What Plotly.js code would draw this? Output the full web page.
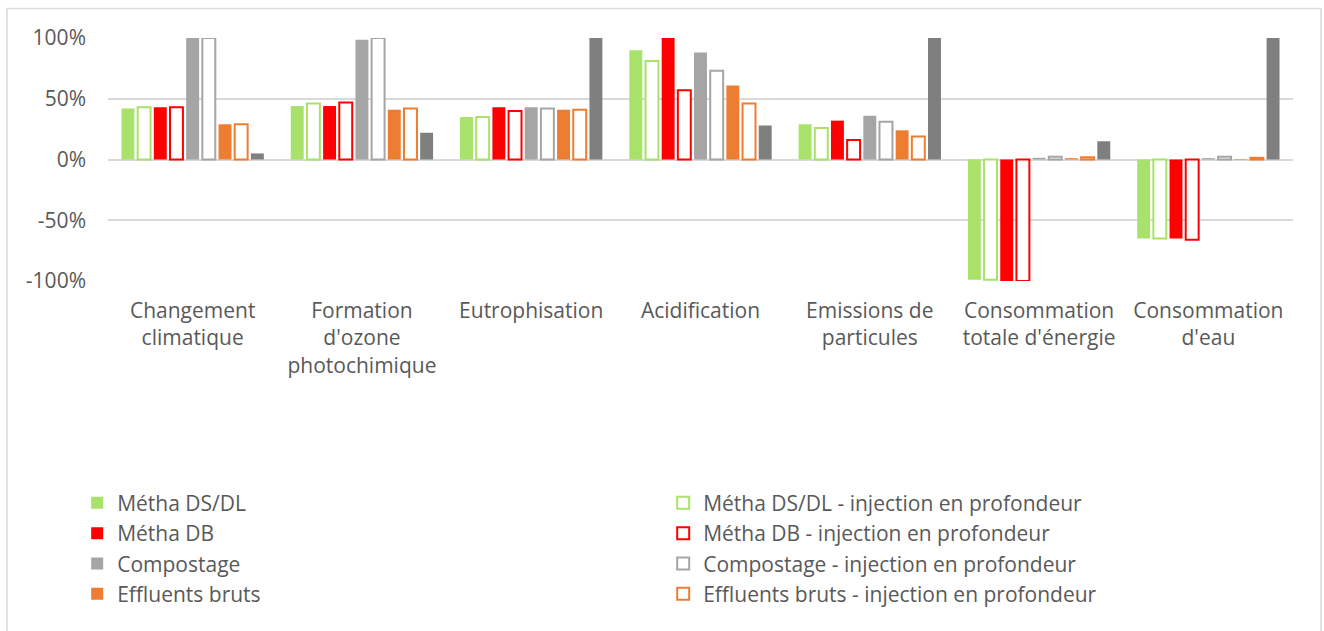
<!DOCTYPE html>
<html>
<head>
<meta charset="utf-8">
<script src="https://cdn.plot.ly/plotly-3.0.1.min.js"></script>
<style>
html,body{margin:0;padding:0;background:#fff;}
#chart{width:1324px;height:631px;}
</style>
</head>
<body>
<div id="chart"></div>
<script>
const categories = ["Changement<br>climatique", "Formation<br>d'ozone<br>photochimique", "Eutrophisation", "Acidification", "Emissions de<br>particules", "Consommation<br>totale d'énergie", "Consommation<br>d'eau"];

const methaDSDL      = [42, 44, 35, 90, 29, -99, -65];
const methaDSDLInj   = [43, 46, 35, 81, 26, -99, -65];
const methaDB        = [43, 44, 43, 100, 32, -100, -65];
const methaDBInj     = [43, 47, 40, 57, 16, -100, -66];
const compostage     = [100, 98.5, 43, 88, 36, 1.4, 1.1];
const compostageInj  = [100, 100, 42, 73, 31, 2.2, 2.2];
const effluents      = [29, 41, 41, 61, 24, 1.1, 0.4];
const effluentsInj   = [29, 42, 41, 46, 19, 1.9, 1.4];
const maximum        = [5, 22, 100, 28, 100, 15, 100];

const seriesNames = ["Métha DS/DL", "Métha DS/DL - injection en profondeur", "Métha DB", "Métha DB - injection en profondeur", "Compostage", "Compostage - injection en profondeur", "Effluents bruts", "Effluents bruts - injection en profondeur", "Maximum"];

const yTickVals = [-100, -50, 0, 50, 100];
const yTickText = ["-100%", "-50%", "0%", "50%", "100%"];

const FONT = "'Open Sans', sans-serif";
const TXT = "#595959";
const FS = 21;

function filled(name, y, color, showlegend) {
  return {type: 'bar', name: name, x: categories, y: y, showlegend: showlegend !== false,
    marker: {color: color, line: {color: color, width: 0}}, hoverinfo: 'x+y+name'};
}
function outline(name, y, color) {
  return {type: 'bar', name: name, x: categories, y: y,
    marker: {color: '#ffffff', line: {color: color, width: 2}}, hoverinfo: 'x+y+name'};
}

const data = [
  filled(seriesNames[0], methaDSDL, '#a8e26a'),
  outline(seriesNames[1], methaDSDLInj, '#a8e26a'),
  filled(seriesNames[2], methaDB, '#ff0000'),
  outline(seriesNames[3], methaDBInj, '#ff0000'),
  filled(seriesNames[4], compostage, '#a5a5a5'),
  outline(seriesNames[5], compostageInj, '#a5a5a5'),
  filled(seriesNames[6], effluents, '#ed7d31'),
  outline(seriesNames[7], effluentsInj, '#ed7d31'),
  filled(seriesNames[8], maximum, '#7f7f7f', false)
];

const layout = {
  width: 1324, height: 631,
  margin: {l: 108, r: 31, t: 38, b: 350},
  paper_bgcolor: '#ffffff', plot_bgcolor: '#ffffff',
  font: {family: FONT, color: TXT, size: FS},
  barmode: 'group', bargap: 0.14, bargroupgap: 0.2,
  showlegend: true,
  legend: {orientation: 'h', x: -0.026, xanchor: 'left', y: -0.83, yanchor: 'top',
    entrywidth: 541, entrywidthmode: 'pixels', traceorder: 'normal',
    font: {family: FONT, color: TXT, size: FS}, bgcolor: 'rgba(0,0,0,0)'},
  xaxis: {type: 'category', showgrid: false, zeroline: false, showline: false, ticks: '',
    tickfont: {family: FONT, color: TXT, size: FS}, ticklabelstandoff: 15, fixedrange: true},
  yaxis: {range: [-100, 100], tickvals: yTickVals, ticktext: yTickText,
    showgrid: true, gridcolor: '#d9d9d9', gridwidth: 2,
    zeroline: true, zerolinecolor: '#d9d9d9', zerolinewidth: 2, showline: false, ticks: '',
    tickfont: {family: FONT, color: TXT, size: FS}, ticklabelstandoff: 21, fixedrange: true},
  shapes: [{type: 'rect', xref: 'paper', yref: 'paper',
    x0: (7 - 108) / 1185, x1: (1321 - 108) / 1185,
    y0: (281 - 660) / 243, y1: (281 - 8.5) / 243,
    line: {color: '#d9d9d9', width: 1.5}, fillcolor: 'rgba(0,0,0,0)', layer: 'below'}]
};

Plotly.newPlot('chart', data, layout, {displayModeBar: false, staticPlot: true});
</script>
</body>
</html>
